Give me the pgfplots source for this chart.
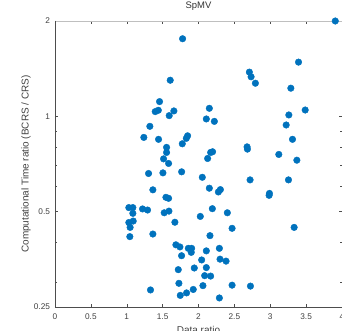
\documentclass[border=0pt]{standalone}
\usepackage{fontspec}
\setmainfont{Liberation Sans}
\usepackage{pgfplots}
\pgfplotsset{compat=1.18}
\definecolor{mblue}{HTML}{0072BD}
\definecolor{axgray}{HTML}{4D4D4D}
\begin{document}
\begin{tikzpicture}
\begin{axis}[
  scale only axis,
  width=287bp, height=286bp,
  xmin=0, xmax=4,
  ymode=log,
  ymin=0.25, ymax=2,
  xtick={0,0.5,1,1.5,2,2.5,3,3.5,4},
  xticklabels={0,0.5,1,1.5,2,2.5,3,3.5,4},
  ytick={0.25,0.5,1,2},
  yticklabels={0.25,0.5,1,2},
  minor ytick={0.3,0.4,0.6,0.7,0.8,0.9},
  tick align=inside,
  major tick length=3bp, minor tick length=2bp,
  tick style={axgray, line width=0.5pt},
  axis line style={black!25, line width=0.6pt},
  tick label style={font=\fontsize{8.3}{9}\selectfont, text=black!75},
  xticklabel style={yshift=-3.5bp},
  yticklabel style={xshift=-1.5bp},
  /pgf/number format/assume math mode=true,
  clip=false,
  title={SpMV},
  title style={at={(axis description cs:0.5,1)}, anchor=center, yshift=8.5bp, font=\fontsize{9.5}{10}\selectfont, text=black!80},
  xlabel={Data ratio},
  xlabel style={at={(axis description cs:0.5,0)}, anchor=center, yshift=-23bp, font=\fontsize{10}{11}\selectfont, text=black!75},
  ylabel={Computational Time ratio (BCRS / CRS)},
  ylabel style={at={([xshift=-29bp]axis description cs:0,0.5)}, anchor=center, font=\fontsize{10}{11}\selectfont, text=black!75},
]
\addplot[only marks, mark=*, mark size=3.3bp, mblue, mark options={draw=mblue, fill=mblue}] coordinates {
(3.906,2.0) (1.778,1.758) (3.394,1.483) (2.709,1.379) (2.733,1.333) (2.793,1.272)
(1.606,1.300) (3.287,1.227) (1.457,1.113) (2.151,1.060) (1.657,1.040) (1.397,1.035)
(1.440,1.045) (1.592,1.005) (3.487,1.047) (3.259,1.010) (2.109,0.981) (2.221,0.964)
(1.322,0.930) (3.222,0.939) (1.238,0.858) (1.443,0.846) (1.848,0.868) (1.830,0.852)
(1.774,0.819) (3.310,0.846) (1.555,0.798) (1.555,0.769) (1.513,0.734) (1.583,0.710)
(2.677,0.801) (2.682,0.788) (2.196,0.773) (2.169,0.769) (2.127,0.736) (3.119,0.758)
(3.371,0.727) (1.304,0.660) (1.504,0.663) (1.765,0.668) (2.053,0.642) (2.719,0.630)
(3.254,0.630) (1.364,0.586) (2.151,0.593) (2.277,0.577) (2.305,0.587) (2.984,0.563)
(2.989,0.571) (1.546,0.555) (1.583,0.551) (1.029,0.515) (1.085,0.515) (1.220,0.510)
(1.290,0.506) (1.085,0.494) (1.522,0.496) (1.588,0.502) (2.193,0.511) (2.402,0.496)
(2.025,0.483) (1.029,0.462) (1.090,0.467) (1.047,0.446) (1.671,0.463) (2.468,0.443)
(3.333,0.446) (1.043,0.417) (1.364,0.425) (2.160,0.420) (1.685,0.393) (1.741,0.387)
(1.858,0.383) (1.904,0.383) (1.899,0.372) (1.764,0.363) (2.109,0.376) (2.291,0.383)
(2.044,0.352) (2.300,0.354) (2.384,0.349) (1.718,0.328) (1.941,0.332) (2.109,0.333)
(2.086,0.314) (2.169,0.313) (1.727,0.297) (2.062,0.292) (2.468,0.293) (2.724,0.291)
(1.331,0.283) (1.927,0.284) (1.834,0.277) (1.746,0.272) (2.291,0.267)
};
\draw[axgray, line width=0.6pt] (rel axis cs:0,1) -- (rel axis cs:0,0) -- (rel axis cs:1,0);
\end{axis}
\pgfresetboundingbox
\path ([xshift=-55bp,yshift=-24bp]current axis.south west) rectangle ([yshift=21bp]current axis.north east);
\end{tikzpicture}
\end{document}
